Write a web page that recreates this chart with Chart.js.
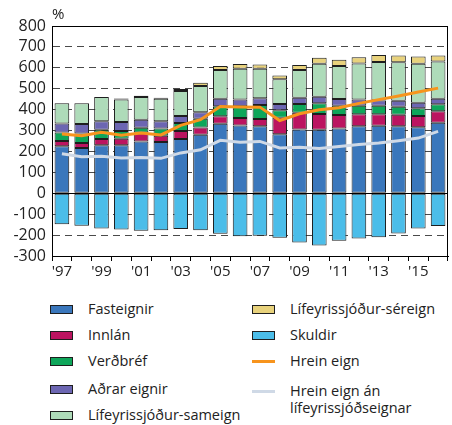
<!DOCTYPE html>
<html>
<head>
<meta charset="utf-8">
<script src="https://cdn.jsdelivr.net/npm/chart.js@4"></script>
<style>
  html, body { margin: 0; padding: 0; background: #fff; }
  #wrap { position: relative; width: 452px; height: 425px; font-family: "Open Sans", sans-serif; color: #222; }
  #chartBox { position: absolute; left: 0; top: 0; width: 452px; height: 285px; }
  #unit { position: absolute; left: 52px; top: 3px; font-size: 15px; }
  .item { position: absolute; font-size: 14.5px; line-height: 17px; }
  .mk { position: absolute; }
</style>
</head>
<body>
<div id="wrap">
  <div id="chartBox"><canvas id="c" width="452" height="285"></canvas></div>
  <div id="unit">%</div>
  <div id="legend"></div>
</div>
<script>
const categories = ["'97","'98","'99","'00","'01","'02","'03","'04","'05","'06","'07","'08","'09","'10","'11","'12","'13","'14","'15","'16"];
const fasteignir = [225,216,230,230,248,245,260,280,333,324,320,282,305,304,310,320,323,320,316,337];
const innlan     = [25,25,29,31,43,30,38,34,35,36,35,79,80,75,64,58,55,55,54,55];
const verdbref   = [41,45,45,37,22,35,38,42,48,56,67,36,42,51,45,40,41,39,37,34];
const adrarEignir= [43,45,41,43,39,34,33,32,36,33,32,30,30,32,32,31,25,28,26,26];
const sameign    = [96,99,116,108,109,108,120,125,137,147,142,118,133,157,158,172,184,185,187,178];
const sereign    = [null,null,null,4,6,5,10,16,20,22,20,18,23,29,29,30,33,32,34,29];
const skuldir    = [-148,-155,-168,-173,-179,-177,-171,-177,-194,-205,-203,-213,-235,-250,-227,-216,-210,-192,-168,-157];
const hreinEign  = [283,275,292,278,288,279,325,352,415,413,412,348,380,399,409,430,448,465,484,503];
const hreinEignAn= [189,175,177,169,171,167,193,208,253,244,248,217,220,214,224,233,240,251,264,296];
const yTicks = { min: -300, max: 800, step: 100 };

const BORDER = '#1e1e1e';
function bar(label, data, color) {
  return { type: 'bar', label, data, backgroundColor: color, borderColor: BORDER, borderWidth: 1,
           borderSkipped: false, stack: 'a', order: 1, barPercentage: 0.74, categoryPercentage: 1.0 };
}
function line(label, data, color, stack) {
  return { type: 'line', label, data, borderColor: color, backgroundColor: color, borderWidth: 3,
           pointRadius: 0, tension: 0, stack, order: 0, fill: false };
}
const datasets = [
  bar('Fasteignir', fasteignir, '#3a77bc'),
  bar('Innlán', innlan, '#bb1460'),
  bar('Verðbréf', verdbref, '#0ea65a'),
  bar('Aðrar eignir', adrarEignir, '#6c66b2'),
  bar('Lífeyrissjóður-sameign', sameign, '#aedbb9'),
  bar('Lífeyrissjóður-séreign', sereign, '#e8d27c'),
  bar('Skuldir', skuldir, '#4bbde9'),
  line('Hrein eign', hreinEign, '#f7941d', 'l1'),
  line('Hrein eign án lífeyrissjóðseignar', hreinEignAn, '#cfd9e6', 'l2')
];

const framePlugin = {
  id: 'frame',
  afterDatasetsDraw(chart) {
    const { ctx, chartArea: a, scales } = chart;
    const y0 = Math.round(scales.y.getPixelForValue(0)) + 0.5;
    ctx.save();
    ctx.strokeStyle = '#000';
    ctx.lineWidth = 1;
    ctx.beginPath();
    ctx.moveTo(a.left, y0); ctx.lineTo(a.right, y0);
    ctx.stroke();
    ctx.strokeRect(Math.round(a.left) + 0.5, Math.round(a.top) + 0.5, Math.round(a.right - a.left) - 1, Math.round(a.bottom - a.top));
    ctx.restore();
  }
};

const chart = new Chart(document.getElementById('c'), {
  data: { labels: categories, datasets },
  options: {
    responsive: false,
    animation: false,
    events: [],
    layout: { padding: { left: 0, right: 4, top: 26, bottom: 0 } },
    plugins: { legend: { display: false }, tooltip: { enabled: false } },
    scales: {
      x: {
        stacked: true,
        offset: true,
        grid: { offset: true, drawOnChartArea: false, drawTicks: true, tickLength: 5, color: '#000', tickColor: '#000' },
        border: { display: true, color: '#000' },
        ticks: {
          autoSkip: false, maxRotation: 0, padding: 2, color: '#222',
          font: { family: 'Open Sans', size: 15 },
          callback: (v, i) => (i % 2 === 0 ? categories[i] : '')
        },
        afterFit: s => { s.height = 29; }
      },
      y: {
        stacked: true,
        min: yTicks.min, max: yTicks.max,
        ticks: { stepSize: yTicks.step, autoSkip: false, padding: 6, color: '#222', font: { family: 'Open Sans', size: 16 } },
        grid: {
          drawTicks: false,
          color: ctx => (ctx.tick && (ctx.tick.value === 0 || ctx.tick.value === 800 || ctx.tick.value === -300)) ? '#000' : '#4a4a4a',
          lineWidth: 1
        },
        border: {
          display: true, color: '#000',
          dash: ctx => (ctx.tick && ctx.tick.value !== 0 && ctx.tick.value !== 800 && ctx.tick.value !== -300) ? [7, 5] : []
        },
        afterFit: s => { s.width = 52; }
      }
    }
  },
  plugins: [framePlugin]
});

// HTML legend built from the chart's datasets
const legend = document.getElementById('legend');
const leftRows = [309, 335, 361, 389, 415];
const rightRows = [309, 335, 361, 391];
chart.data.datasets.forEach((ds, i) => {
  const left = i < 5;
  const cy = left ? leftRows[i] : rightRows[i - 5];
  const boxX = left ? 50 : 252;
  const textX = left ? 88 : 290;
  const mk = document.createElement('div');
  mk.className = 'mk';
  if (ds.type === 'bar') {
    Object.assign(mk.style, { left: boxX + 'px', top: (cy - 4) + 'px', width: '21px', height: '7px',
      background: ds.backgroundColor, border: '1px solid ' + BORDER });
  } else {
    Object.assign(mk.style, { left: boxX + 'px', top: (cy - 1.5) + 'px', width: '23px', height: '3px', background: ds.borderColor });
  }
  legend.appendChild(mk);
  const t = document.createElement('div');
  t.className = 'item';
  t.textContent = ds.label;
  Object.assign(t.style, { left: textX + 'px', top: (cy - 9) + 'px', width: left ? '170px' : '150px' });
  legend.appendChild(t);
});
</script>
</body>
</html>
